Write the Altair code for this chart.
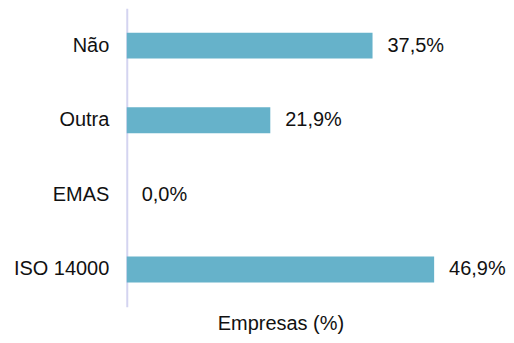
import altair as alt
import pandas as pd

categories = ["Não", "Outra", "EMAS", "ISO 14000"]
values = [37.5, 21.9, 0.0, 46.9]
labels = ["37,5%", "21,9%", "0,0%", "46,9%"]

df = pd.DataFrame({"cat": categories, "val": values, "lab": labels})

FONT = "Liberation Sans"
FS = 20

y_enc = alt.Y("cat:N", sort=categories, title=None,
              scale=alt.Scale(paddingInner=0, paddingOuter=0),
              axis=alt.Axis(domain=True, domainColor="#d4d4f0", domainWidth=2,
                            ticks=False, grid=False, labelFont=FONT, labelFontSize=FS,
                            labelColor="#111111", labelPadding=18))
x_enc = alt.X("val:Q", title="Empresas (%)",
              scale=alt.Scale(domain=[0, 46.9], nice=False, zero=True),
              axis=alt.Axis(domain=False, ticks=False, labels=False, grid=False,
                            titleFont=FONT, titleFontSize=FS, titleFontWeight="normal",
                            titleColor="#111111", titlePadding=7))

bars = alt.Chart(df).mark_bar(size=26, color="#66b2ca").encode(x=x_enc, y=y_enc)
text = alt.Chart(df).mark_text(align="left", baseline="middle", dx=15, dy=0,
                               font=FONT, fontSize=FS, color="#111111").encode(
    x="val:Q", y=alt.Y("cat:N", sort=categories), text="lab:N")

chart = (bars + text).properties(
    width=308, height=299,
    padding={"left": 5, "top": 0, "right": 0, "bottom": 5},
).configure_view(stroke=None)

chart.save("out.html", embed_options={"renderer": "svg", "actions": False})
